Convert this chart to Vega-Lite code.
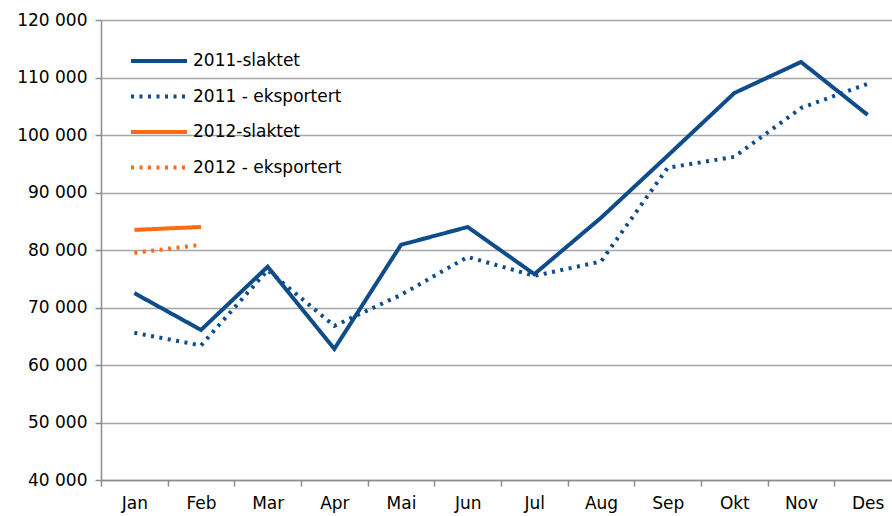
{
  "$schema": "https://vega.github.io/schema/vega-lite/v6.json",
  "width": 800,
  "height": 460,
  "autosize": {"type": "none"},
  "padding": {"left": 101, "top": 20, "right": 0, "bottom": 36},
  "background": "white",
  "config": {
    "font": "DejaVu Sans",
    "view": {"stroke": null},
    "axis": {"labelFont": "DejaVu Sans", "labelFontSize": 17, "labelColor": "#000000", "domainColor": "#8C8C8C", "tickColor": "#8C8C8C", "domainWidth": 1.5, "tickWidth": 1.5}
  },
  "data": {
    "values": [
      {"month": "Jan", "series": "2011-slaktet", "value": 72500},
      {"month": "Feb", "series": "2011-slaktet", "value": 66100},
      {"month": "Mar", "series": "2011-slaktet", "value": 77100},
      {"month": "Apr", "series": "2011-slaktet", "value": 62800},
      {"month": "Mai", "series": "2011-slaktet", "value": 80900},
      {"month": "Jun", "series": "2011-slaktet", "value": 84000},
      {"month": "Jul", "series": "2011-slaktet", "value": 75800},
      {"month": "Aug", "series": "2011-slaktet", "value": 85600},
      {"month": "Sep", "series": "2011-slaktet", "value": 96400},
      {"month": "Okt", "series": "2011-slaktet", "value": 107300},
      {"month": "Nov", "series": "2011-slaktet", "value": 112700},
      {"month": "Des", "series": "2011-slaktet", "value": 103500},
      {"month": "Jan", "series": "2011 - eksportert", "value": 65600},
      {"month": "Feb", "series": "2011 - eksportert", "value": 63400},
      {"month": "Mar", "series": "2011 - eksportert", "value": 76500},
      {"month": "Apr", "series": "2011 - eksportert", "value": 66800},
      {"month": "Mai", "series": "2011 - eksportert", "value": 72200},
      {"month": "Jun", "series": "2011 - eksportert", "value": 78800},
      {"month": "Jul", "series": "2011 - eksportert", "value": 75500},
      {"month": "Aug", "series": "2011 - eksportert", "value": 78000},
      {"month": "Sep", "series": "2011 - eksportert", "value": 94300},
      {"month": "Okt", "series": "2011 - eksportert", "value": 96200},
      {"month": "Nov", "series": "2011 - eksportert", "value": 104700},
      {"month": "Des", "series": "2011 - eksportert", "value": 108900},
      {"month": "Jan", "series": "2012-slaktet", "value": 83500},
      {"month": "Feb", "series": "2012-slaktet", "value": 84000},
      {"month": "Jan", "series": "2012 - eksportert", "value": 79500},
      {"month": "Feb", "series": "2012 - eksportert", "value": 80900}
    ]
  },
  "mark": {"type": "line", "strokeWidth": 4, "strokeCap": "butt", "strokeJoin": "miter"},
  "encoding": {
    "x": {
      "field": "month", "type": "nominal", "bandPosition": 0.5,
      "sort": ["Jan","Feb","Mar","Apr","Mai","Jun","Jul","Aug","Sep","Okt","Nov","Des"],
      "scale": {"type": "band", "paddingInner": 0, "paddingOuter": 0},
      "axis": {"title": null, "labelAngle": 0, "tickBand": "extent", "tickSize": 6, "labelPadding": 9, "grid": false}
    },
    "y": {
      "field": "value", "type": "quantitative",
      "scale": {"domain": [40000, 120000], "nice": false, "zero": false},
      "axis": {"title": null, "values": [40000,50000,60000,70000,80000,90000,100000,110000,120000], "tickSize": 6, "labelPadding": 8, "grid": true, "gridColor": "#A6A6A6", "gridWidth": 1.5, "labelExpr": "replace(format(datum.value, ','), ',', ' ')"}
    },
    "color": {
      "field": "series", "type": "nominal",
      "scale": {"domain": ["2011-slaktet", "2011 - eksportert", "2012-slaktet", "2012 - eksportert"], "range": ["#0E4C8A", "#0E4C8A", "#FF6A13", "#FF6A13"]},
      "legend": {"title": null, "orient": "none", "legendX": 42, "legendY": 25, "symbolType": "M-2,0H2", "symbolSize": 784, "symbolStrokeWidth": 4, "labelFontSize": 17, "labelColor": "#000000", "labelFont": "DejaVu Sans", "rowPadding": 11.5, "labelOffset": 18}
    },
    "strokeDash": {
      "field": "series", "type": "nominal",
      "scale": {"domain": ["2011-slaktet", "2011 - eksportert", "2012-slaktet", "2012 - eksportert"], "range": [[1, 0], [3, 5.5], [1, 0], [3, 5.5]]},
      "legend": null
    }
  }
}
